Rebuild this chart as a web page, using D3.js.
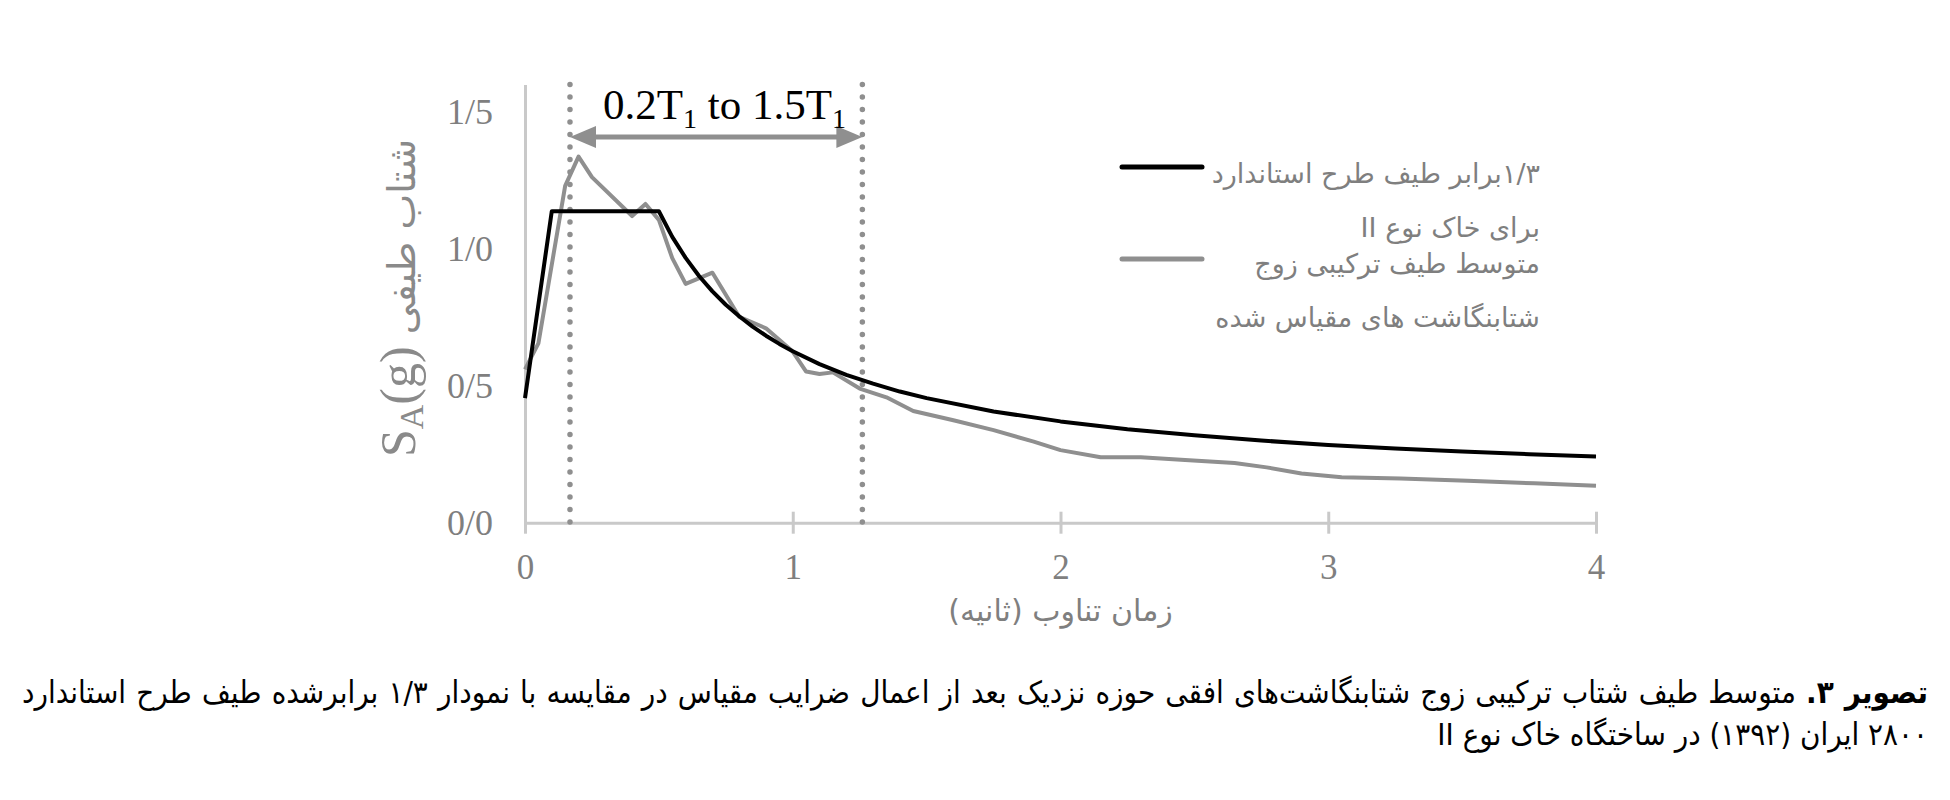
<!DOCTYPE html>
<html><head><meta charset="utf-8">
<script src="https://cdn.jsdelivr.net/npm/d3@7/dist/d3.min.js"></script>
<style>
html,body{margin:0;padding:0;background:#fff;}
#wrap{position:relative;width:1950px;height:800px;overflow:hidden;background:#fff}
svg{position:absolute;left:0;top:0}
.cap{position:absolute;left:22px;width:1906px;direction:rtl;font-family:"DejaVu Sans Condensed","DejaVu Sans";font-stretch:condensed;font-size:32px;line-height:40px;color:#000;white-space:nowrap}
.cap1{top:672px;text-align:justify;text-align-last:justify}
.cap2{top:714px;text-align:right}
</style></head><body><div id="wrap"></div><script>
// ---- data ----
const periodTicks = [0, 1, 2, 3, 4];
const saTicks = [0, 0.5, 1.0, 1.5];
const saTickLabels = ["0/0", "0/5", "1/0", "1/5"];
const designT  = [0, 0.1, 0.5, 0.55, 0.6, 0.65, 0.7, 0.75, 0.8, 0.85, 0.9, 0.95, 1.0, 1.1, 1.2, 1.3, 1.4, 1.5, 1.75, 2.0, 2.25, 2.5, 2.75, 3.0, 3.25, 3.5, 3.75, 4.0];
const designSA = [0.455, 1.1375, 1.1375, 1.044, 0.967, 0.901, 0.845, 0.796, 0.754, 0.716, 0.683, 0.653, 0.626, 0.579, 0.540, 0.508, 0.479, 0.455, 0.406, 0.370, 0.341, 0.319, 0.300, 0.284, 0.271, 0.260, 0.250, 0.242];
const meanT  = [0, 0.05, 0.15, 0.2, 0.25, 0.4, 0.45, 0.5, 0.55, 0.6, 0.7, 0.8, 0.9, 1.0, 1.05, 1.1, 1.15, 1.25, 1.35, 1.45, 1.6, 1.75, 1.9, 2.0, 2.15, 2.3, 2.45, 2.65, 2.77, 2.9, 3.05, 3.27, 3.52, 3.77, 4.0];
const meanSA = [0.56, 0.655, 1.23, 1.337, 1.262, 1.12, 1.164, 1.106, 0.966, 0.872, 0.913, 0.752, 0.71, 0.625, 0.552, 0.543, 0.549, 0.49, 0.458, 0.408, 0.374, 0.338, 0.296, 0.265, 0.239, 0.239, 0.230, 0.218, 0.202, 0.180, 0.166, 0.161, 0.153, 0.144, 0.135];
const rangeBounds = [0.168, 1.26];
const legendDesign = ["۱/۳برابر طیف طرح استاندارد", "برای خاک نوع II"];
const legendMean = ["متوسط طیف ترکیبی زوج", "شتابنگاشت های مقیاس شده"];
const xTitle = "زمان تناوب (ثانیه)";
const yTitleFa = "شتاب طیفی";
const captionBold = "تصویر ۳.";
const captionLine1 = " متوسط طیف شتاب ترکیبی زوج شتابنگاشت‌های افقی حوزه نزدیک بعد از اعمال ضرایب مقیاس در مقایسه با نمودار ۱/۳ برابرشده طیف طرح استاندارد";
const captionLine2 = "۲۸۰۰ ایران (۱۳۹۲) در ساختگاه خاک نوع II";

// ---- drawing ----
const W = 1950, H = 800;
const wrap = d3.select("#wrap");
const svg = wrap.append("svg").attr("width", W).attr("height", H);

const x = d3.scaleLinear().domain([0, 4]).range([525, 1596]);
const y = d3.scaleLinear().domain([0, 1.6]).range([522.7, 84.6]);

const axisColor = "#c9c9c9", labelColor = "#7f7f7f", grayLine = "#8f8f8f";
const serif = "'Liberation Serif','Times New Roman',serif";
const fa = "'DejaVu Sans',sans-serif";

// y axis
const gy = svg.append("g").attr("transform", `translate(${x(0)},0)`)
  .call(d3.axisLeft(y).tickValues(saTicks).tickFormat((d, i) => saTickLabels[i]).tickSize(0).tickPadding(32));
gy.select(".domain").attr("stroke", axisColor).attr("stroke-width", 3);
gy.selectAll("text").attr("font-family", serif).attr("font-size", 36).attr("fill", labelColor);

// x axis
const gx = svg.append("g").attr("transform", `translate(0,${y(0)})`)
  .call(d3.axisBottom(x).tickValues(periodTicks).tickFormat(d3.format("d")).tickSizeOuter(0).tickSizeInner(11).tickPadding(20));
gx.select(".domain").attr("stroke", axisColor).attr("stroke-width", 3);
gx.selectAll(".tick line").attr("y1", -11).attr("y2", 11).attr("stroke", axisColor).attr("stroke-width", 3);
gx.selectAll("text").attr("font-family", serif).attr("font-size", 35).attr("fill", labelColor);

// dotted range lines
svg.selectAll(".rng").data(rangeBounds).enter().append("line")
  .attr("x1", d => x(d)).attr("x2", d => x(d))
  .attr("y1", y(1.6)).attr("y2", y(0))
  .attr("stroke", grayLine).attr("stroke-width", 5.5)
  .attr("stroke-linecap", "round").attr("stroke-dasharray", "0 12.5");

// curves
const line = d3.line().x(d => x(d[0])).y(d => y(d[1]));
svg.append("path").datum(meanT.map((t, i) => [t, meanSA[i]]))
  .attr("d", line).attr("fill", "none").attr("stroke", grayLine).attr("stroke-width", 4)
  .attr("stroke-linejoin", "round");
svg.append("path").datum(designT.map((t, i) => [t, designSA[i]]))
  .attr("d", line).attr("fill", "none").attr("stroke", "#000").attr("stroke-width", 4)
  .attr("stroke-linejoin", "round");

// double arrow
const ay = 137, ax1 = x(rangeBounds[0]), ax2 = x(rangeBounds[1]), hl = 26, hh = 11;
svg.append("line").attr("x1", ax1 + hl - 2).attr("x2", ax2 - hl + 2).attr("y1", ay).attr("y2", ay)
  .attr("stroke", grayLine).attr("stroke-width", 5);
svg.append("path").attr("d", `M${ax1},${ay}L${ax1 + hl},${ay - hh}L${ax1 + hl},${ay + hh}Z`).attr("fill", grayLine);
svg.append("path").attr("d", `M${ax2},${ay}L${ax2 - hl},${ay - hh}L${ax2 - hl},${ay + hh}Z`).attr("fill", grayLine);

// annotation text
const ann = svg.append("text").attr("x", 603).attr("y", 119)
  .attr("font-family", serif).attr("font-size", 43).attr("fill", "#000");
ann.append("tspan").text("0.2T");
ann.append("tspan").attr("font-size", 28).attr("dy", 9).text("1");
ann.append("tspan").attr("dy", -9).text(" to 1.5T");
ann.append("tspan").attr("font-size", 28).attr("dy", 9).text("1");

// legend
svg.append("line").attr("x1", 1122).attr("x2", 1202).attr("y1", 167).attr("y2", 167)
  .attr("stroke", "#000").attr("stroke-width", 5).attr("stroke-linecap", "round");
svg.append("line").attr("x1", 1122).attr("x2", 1202).attr("y1", 259).attr("y2", 259)
  .attr("stroke", grayLine).attr("stroke-width", 5).attr("stroke-linecap", "round");
const legTexts = [[legendDesign[0], 183], [legendDesign[1], 237], [legendMean[0], 273], [legendMean[1], 327]];
svg.selectAll(".leg").data(legTexts).enter().append("text")
  .attr("x", 1540).attr("y", d => d[1])
  .attr("direction", "rtl").attr("text-anchor", "start")
  .attr("font-family", fa).attr("font-size", 27).attr("fill", labelColor)
  .text(d => d[0]);

// x title
svg.append("text").attr("x", x(2)).attr("y", 621).attr("direction", "rtl").attr("text-anchor", "middle")
  .attr("font-family", fa).attr("font-size", 30).attr("fill", labelColor).text(xTitle);

// y title
const yt = svg.append("text").attr("transform", "translate(415,298) rotate(-90)")
  .attr("text-anchor", "middle").attr("fill", "#8a8a8a");
yt.append("tspan").attr("font-family", serif).attr("font-size", 50).text("S");
yt.append("tspan").attr("font-family", serif).attr("font-size", 34).attr("dy", 8).text("A");
yt.append("tspan").attr("font-family", serif).attr("font-size", 50).attr("dy", -8).text("(g)");
yt.append("tspan").attr("font-family", fa).attr("font-size", 38).text(" " + yTitleFa);

// caption
const c1 = wrap.append("div").attr("class", "cap cap1");
c1.append("b").text(captionBold);
c1.append("span").text(captionLine1);
const c2 = wrap.append("div").attr("class", "cap cap2").text(captionLine2);
// shrink the caption font if the first line does not fit its box
let fs = 32;
const n1 = c1.node();
while (n1.scrollWidth > 1906 && fs > 18) {
  fs -= 1;
  c1.style("font-size", fs + "px");
  c2.style("font-size", fs + "px");
}
</script></body></html>
